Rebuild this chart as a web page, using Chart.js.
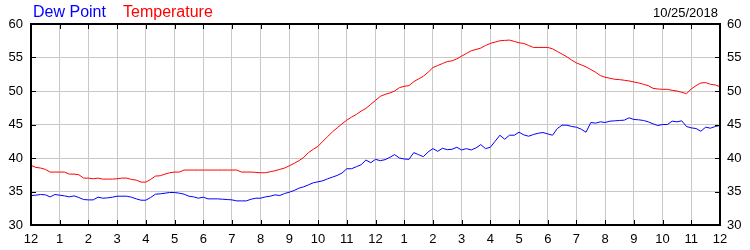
<!DOCTYPE html>
<html>
<head>
<meta charset="utf-8">
<script src="https://cdn.jsdelivr.net/npm/chart.js@4.4.1/dist/chart.umd.min.js"></script>
<style>
  html, body { margin: 0; padding: 0; background: #fff; }
  #wrap { width: 750px; height: 250px; }
</style>
</head>
<body>
<div id="wrap"><canvas id="c" width="750" height="250"></canvas></div>
<script>
// ---- data (10-minute samples, starting at midnight) ----
const sampleMinutes = 10;
const hourLabels = ["12","1","2","3","4","5","6","7","8","9","10","11","12","1","2","3","4","5","6","7","8","9","10","11","12"];
const yTicks = [30, 35, 40, 45, 50, 55, 60];
const seriesNames = ["Dew Point", "Temperature"];
const dateLabel = "10/25/2018";

const temperature = [
  38.9,38.6,38.5,38.3,37.9,37.9,37.9,37.9,37.6,37.6,37.5,37.0,
  37.0,36.9,37.0,36.85,36.85,36.85,36.9,37.0,37.0,36.8,36.7,36.4,
  36.4,36.8,37.3,37.35,37.6,37.8,37.9,37.9,38.2,38.2,38.2,38.2,
  38.2,38.2,38.2,38.2,38.2,38.2,38.2,38.2,37.9,37.9,37.9,37.85,
  37.8,37.8,37.95,38.1,38.3,38.5,38.85,39.2,39.6,40.1,40.8,41.3,
  41.75,42.5,43.2,43.9,44.5,45.1,45.65,46.1,46.5,47.0,47.4,48.0,
  48.6,49.2,49.5,49.7,50.0,50.5,50.7,50.8,51.4,51.8,52.2,52.8,
  53.5,53.8,54.1,54.4,54.5,54.8,55.2,55.6,56.0,56.2,56.4,56.8,
  57.1,57.3,57.5,57.55,57.6,57.4,57.2,57.1,56.8,56.5,56.5,56.5,
  56.5,56.3,55.9,55.5,55.1,54.6,54.2,53.9,53.6,53.2,52.8,52.3,
  52.05,51.9,51.75,51.7,51.6,51.5,51.35,51.2,51.0,50.8,50.4,50.3,
  50.25,50.25,50.1,50.0,49.8,49.6,50.3,50.8,51.2,51.25,51.0,50.9,
  50.65
];

const dewPoint = [
  34.4,34.45,34.55,34.5,34.2,34.55,34.45,34.35,34.2,34.35,34.1,33.8,
  33.75,33.75,34.15,34.0,34.05,34.15,34.3,34.3,34.3,34.15,33.9,33.7,
  33.7,34.1,34.6,34.65,34.75,34.85,34.85,34.75,34.6,34.3,34.2,34.0,
  34.15,33.9,33.9,33.9,33.85,33.8,33.75,33.6,33.6,33.6,33.85,34.0,
  34.0,34.2,34.3,34.5,34.4,34.7,34.9,35.15,35.5,35.7,36.0,36.3,
  36.45,36.6,36.9,37.15,37.4,37.75,38.4,38.4,38.7,39.0,39.7,39.3,
  39.8,39.6,39.75,40.1,40.5,40.0,39.85,39.8,40.8,40.5,40.2,40.9,
  41.4,41.0,41.45,41.25,41.3,41.6,41.2,41.4,41.2,41.5,42.0,41.4,
  41.6,42.5,43.4,42.8,43.4,43.4,43.85,43.45,43.25,43.5,43.7,43.8,
  43.6,43.4,44.4,44.9,44.9,44.7,44.6,44.3,43.85,45.3,45.2,45.4,
  45.3,45.5,45.55,45.6,45.65,46.0,45.75,45.7,45.6,45.4,45.1,44.85,
  45.0,45.0,45.5,45.4,45.55,44.7,44.5,44.4,44.0,44.6,44.45,44.7,
  44.85
];

// ---- build chart ----
const toPoints = arr => arr.map((v, i) => ({ x: i * sampleMinutes / 60, y: v }));
const FONT = "'Liberation Sans', Arial, sans-serif";

const framePlugin = {
  id: 'frame',
  afterDraw(chart) {
    const { ctx, chartArea: a, scales } = chart;
    ctx.save();
    ctx.strokeStyle = '#000';
    ctx.lineWidth = 1;
    ctx.beginPath();
    scales.x.ticks.forEach(t => {
      const px = Math.round(scales.x.getPixelForValue(t.value)) + 0.5;
      ctx.moveTo(px, a.bottom); ctx.lineTo(px, a.bottom - 5);
      ctx.moveTo(px, a.top); ctx.lineTo(px, a.top + 5);
    });
    scales.y.ticks.forEach(t => {
      const py = Math.round(scales.y.getPixelForValue(t.value)) + 0.5;
      ctx.moveTo(a.left, py); ctx.lineTo(a.left + 5, py);
      ctx.moveTo(a.right, py); ctx.lineTo(a.right - 5, py);
    });
    ctx.stroke();
    ctx.lineWidth = 2;
    ctx.strokeRect(Math.round(a.left), Math.round(a.top), Math.round(a.right - a.left), Math.round(a.bottom - a.top));
    // header texts
    ctx.font = "16px " + FONT;
    ctx.textBaseline = 'alphabetic';
    ctx.textAlign = 'left';
    ctx.fillStyle = '#0000ff';
    ctx.fillText(seriesNames[0], 33, 17);
    ctx.fillStyle = '#ff0000';
    ctx.fillText(seriesNames[1], 123, 17);
    ctx.font = "13px " + FONT;
    ctx.fillStyle = '#000';
    ctx.textAlign = 'right';
    ctx.fillText(dateLabel, 718, 17);
    ctx.restore();
  }
};

const tickFont = { family: FONT, size: 13 };

new Chart(document.getElementById('c'), {
  type: 'line',
  data: {
    datasets: [
      { label: seriesNames[0], data: toPoints(dewPoint), borderColor: '#0000ff', borderWidth: 1, pointRadius: 0, tension: 0, yAxisID: 'y' },
      { label: seriesNames[1], data: toPoints(temperature), borderColor: '#ff0000', borderWidth: 1, pointRadius: 0, tension: 0, yAxisID: 'y' }
    ]
  },
  options: {
    responsive: false,
    animation: false,
    devicePixelRatio: 1,
    layout: { padding: { top: 24, left: 0, right: 0, bottom: 0 } },
    plugins: { legend: { display: false }, tooltip: { enabled: false }, title: { display: false } },
    scales: {
      x: {
        type: 'linear', min: 0, max: hourLabels.length - 1,
        afterFit: s => { s.height = 25; },
        ticks: { stepSize: 1, autoSkip: false, maxRotation: 0, padding: 7, color: '#000', font: tickFont,
                 callback: v => hourLabels[v] },
        grid: { color: '#c8c8c8', lineWidth: 1, drawTicks: false },
        border: { display: false }
      },
      y: {
        position: 'left', min: yTicks[0], max: yTicks[yTicks.length - 1],
        afterFit: s => { s.width = 31; },
        afterBuildTicks: s => { s.ticks = yTicks.map(v => ({ value: v })); },
        ticks: { padding: 8, color: '#000', font: tickFont },
        grid: { color: '#c8c8c8', lineWidth: 1, drawTicks: false },
        border: { display: false }
      },
      y2: {
        position: 'right', min: yTicks[0], max: yTicks[yTicks.length - 1],
        afterFit: s => { s.width = 30; },
        afterBuildTicks: s => { s.ticks = yTicks.map(v => ({ value: v })); },
        ticks: { padding: 7, color: '#000', font: tickFont },
        grid: { display: false, drawTicks: false },
        border: { display: false }
      }
    }
  },
  plugins: [framePlugin]
});
</script>
</body>
</html>
